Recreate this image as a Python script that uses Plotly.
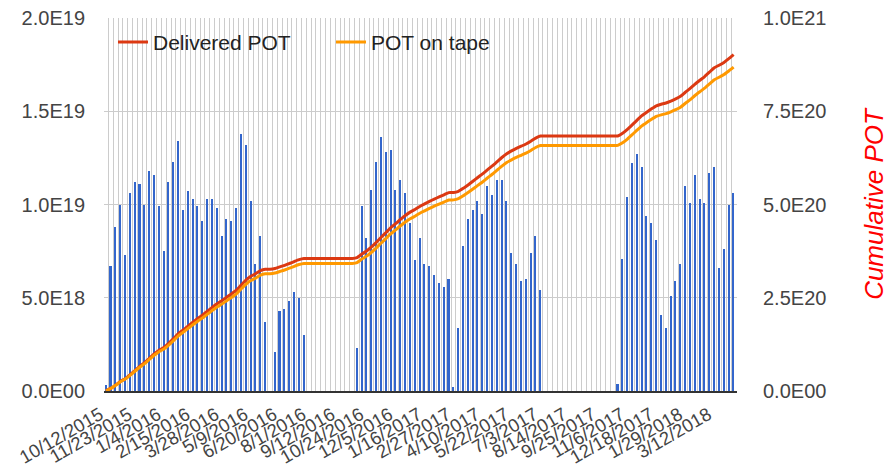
import pandas as pd
import plotly.graph_objects as go

# ---------------- data (units of 1E18 POT) ----------------
start_date = "2015-10-12"

delivered_weekly = [
    0.3, 6.7, 8.8, 10.0, 7.3, 10.6, 11.2, 11.1, 10.0, 11.8,
    11.6, 9.9, 7.5, 11.2, 12.3, 13.4, 9.7, 10.7, 10.3, 9.9,
    9.1, 10.3, 10.3, 9.8, 8.3, 9.2, 9.1, 9.8, 13.8, 13.2,
    10.2, 6.8, 8.3, 3.7, 0.0, 2.1, 4.3, 4.4, 4.8, 5.3,
    5.0, 3.0, 0.0, 0.0, 0.0, 0.0, 0.0, 0.0, 0.0, 0.0,
    0.0, 0.0, 2.3, 9.9, 8.2, 10.8, 12.3, 13.6, 12.8, 12.9,
    10.8, 11.3, 10.6, 9.0, 7.0, 8.2, 6.8, 6.7, 6.2, 5.8,
    5.6, 6.0, 0.2, 3.4, 7.8, 9.2, 9.7, 10.2, 9.5, 11.0,
    10.5, 11.3, 11.3, 10.2, 7.4, 6.8, 5.9, 6.0, 7.4, 8.3,
    5.4, 0.0, 0.0, 0.0, 0.0, 0.0, 0.0, 0.0, 0.0, 0.0,
    0.0, 0.0, 0.0, 0.0, 0.0, 0.0, 0.4, 7.1, 10.4, 12.2,
    12.7, 12.0, 9.4, 9.0, 8.1, 4.1, 3.4, 5.1, 5.9, 6.8,
    11.0, 10.1, 11.6, 10.3, 10.1, 11.7, 12.0, 6.6, 7.6, 10.0,
    10.6,
]

delivered_cum = [
    0.3, 7.0, 15.8, 25.8, 33.1, 43.7, 54.9, 66.0, 76.0, 87.8,
    99.4, 109.3, 116.8, 128.0, 140.3, 153.7, 163.4, 174.1, 184.4, 194.3,
    203.4, 213.7, 224.0, 233.8, 242.1, 251.3, 260.4, 270.2, 284.0, 297.2,
    307.4, 314.2, 322.5, 326.2, 326.2, 328.3, 332.6, 337.0, 341.8, 347.1,
    352.1, 355.1, 355.1, 355.1, 355.1, 355.1, 355.1, 355.1, 355.1, 355.1,
    355.1, 355.1, 357.4, 367.3, 375.5, 386.3, 398.6, 412.2, 425.0, 437.9,
    448.7, 460.0, 470.6, 479.6, 486.6, 494.8, 501.6, 508.3, 514.5, 520.3,
    525.9, 531.9, 532.1, 535.5, 543.3, 552.5, 562.2, 572.4, 581.9, 592.9,
    603.4, 614.7, 626.0, 636.2, 643.6, 650.4, 656.3, 662.3, 669.7, 678.0,
    683.4, 683.4, 683.4, 683.4, 683.4, 683.4, 683.4, 683.4, 683.4, 683.4,
    683.4, 683.4, 683.4, 683.4, 683.4, 683.4, 683.8, 690.9, 701.3, 713.5,
    726.2, 738.2, 747.6, 756.6, 764.7, 768.8, 772.2, 777.3, 783.2, 790.0,
    801.0, 811.1, 822.7, 833.0, 843.1, 854.8, 866.8, 873.4, 881.0, 891.0,
    901.6,
]

tape_cum = [
    0.3, 6.7, 15.2, 24.8, 31.9, 42.1, 52.9, 63.6, 73.2, 84.6,
    95.7, 105.3, 112.5, 123.3, 135.1, 148.0, 157.4, 167.7, 177.6, 187.1,
    195.9, 205.8, 215.7, 225.1, 233.1, 242.0, 250.8, 260.2, 273.5, 286.2,
    296.0, 302.6, 310.6, 314.1, 314.1, 316.2, 320.3, 324.5, 329.2, 334.3,
    339.1, 342.0, 342.0, 342.0, 342.0, 342.0, 342.0, 342.0, 342.0, 342.0,
    342.0, 342.0, 344.2, 353.7, 361.6, 372.0, 383.9, 396.9, 409.3, 421.7,
    432.1, 443.0, 453.2, 461.9, 468.6, 476.5, 483.0, 489.5, 495.5, 501.0,
    506.4, 512.2, 512.4, 515.7, 523.2, 532.1, 541.4, 551.2, 560.4, 571.0,
    581.1, 592.0, 602.8, 612.7, 619.8, 626.3, 632.0, 637.8, 644.9, 652.9,
    658.1, 658.1, 658.1, 658.1, 658.1, 658.1, 658.1, 658.1, 658.1, 658.1,
    658.1, 658.1, 658.1, 658.1, 658.1, 658.1, 658.5, 665.3, 675.3, 687.1,
    699.3, 710.9, 719.9, 728.6, 736.4, 740.4, 743.6, 748.5, 754.2, 760.8,
    771.4, 781.1, 792.3, 802.2, 811.9, 823.2, 834.7, 841.1, 848.4, 858.0,
    868.2,
]

tick_labels = [
    "10/12/2015", "11/23/2015", "1/4/2016", "2/15/2016", "3/28/2016",
    "5/9/2016", "6/20/2016", "8/1/2016", "9/12/2016", "10/24/2016",
    "12/5/2016", "1/16/2017", "2/27/2017", "4/10/2017", "5/22/2017",
    "7/3/2017", "8/14/2017", "9/25/2017", "11/6/2017", "12/18/2017",
    "1/29/2018", "3/12/2018",
]
tick_every_weeks = 6

left_tickvals = [0, 5, 10, 15, 20]
left_ticktext = ["0.0E00", "5.0E18", "1.0E19", "1.5E19", "2.0E19"]
right_tickvals = [0, 250, 500, 750, 1000]
right_ticktext = ["0.0E00", "2.5E20", "5.0E20", "7.5E20", "1.0E21"]

# ---------------- figure ----------------
weeks = pd.date_range(start_date, periods=len(delivered_weekly), freq="7D")
WEEK = pd.Timedelta(days=7)
WEEK_MS = 7 * 24 * 3600 * 1000
tickvals = [weeks[i] for i in range(0, len(weeks), tick_every_weeks)][: len(tick_labels)]

FONT = "Arial, Liberation Sans, sans-serif"

fig = go.Figure()
fig.add_trace(go.Bar(
    x=weeks, y=delivered_weekly, marker_color="#3366cc", marker_line_width=0,
    width=0.32 * WEEK_MS, showlegend=False, name="Weekly POT",
))
fig.add_trace(go.Scatter(
    x=weeks, y=delivered_cum, yaxis="y2", mode="lines", name="Delivered POT",
    line=dict(color="#dc3912", width=3, shape="spline", smoothing=0.5),
))
fig.add_trace(go.Scatter(
    x=weeks, y=tape_cum, yaxis="y2", mode="lines", name="POT on tape",
    line=dict(color="#ff9900", width=3, shape="spline", smoothing=0.5),
))

fig.update_layout(
    width=890, height=468,
    margin=dict(l=104, r=153, t=18, b=77, autoexpand=False),
    paper_bgcolor="white", plot_bgcolor="white",
    font=dict(family=FONT, size=19, color="#444444"),
    bargap=0,
    showlegend=True,
    legend=dict(
        orientation="h", x=0.0142, y=0.99, xanchor="left", yanchor="top",
        bgcolor="rgba(255,255,255,0)", font=dict(size=21, color="#222222"),
        entrywidth=173, entrywidthmode="pixels",
    ),
    xaxis=dict(
        type="date", automargin=False,
        range=[weeks[0] - 0.4 * WEEK, weeks[-1] + 0.7 * WEEK],
        tickmode="array", tickvals=tickvals, ticktext=tick_labels,
        tickangle=-30, tickfont=dict(size=18.5, color="#444444"),
        ticklabelshift=-6, ticklabelstandoff=4,
        showgrid=False, zeroline=False,
        showline=True, linecolor="#333333", linewidth=2,
        ticks="", ticklen=0,
        minor=dict(
            tickmode="linear", tick0=weeks[0] - 0.5 * WEEK, dtick=WEEK_MS,
            showgrid=True, gridcolor="#cccccc", gridwidth=1, ticks="",
        ),
    ),
    yaxis=dict(
        range=[0, 20], tickmode="array", tickvals=left_tickvals, ticktext=left_ticktext,
        showgrid=True, gridcolor="#cccccc", gridwidth=1, zeroline=False,
        ticks="outside", ticklen=14, tickcolor="rgba(0,0,0,0)",
        tickfont=dict(size=20, color="#444444"), automargin=False,
    ),
    yaxis2=dict(
        overlaying="y", side="right", range=[0, 1000],
        tickmode="array", tickvals=right_tickvals, ticktext=right_ticktext,
        showgrid=False, zeroline=False, automargin=False,
        ticks="outside", ticklen=21, tickcolor="rgba(0,0,0,0)",
        tickfont=dict(size=20, color="#444444"),
        title=dict(text="Cumulative POT", standoff=39,
                   font=dict(size=26, color="#ff0000", style="italic")),
    ),
)

fig.write_html(
    "out.html",
    config={"displayModeBar": False},
    post_script="document.body.style.margin='0px';document.body.style.overflow='hidden';",
)
